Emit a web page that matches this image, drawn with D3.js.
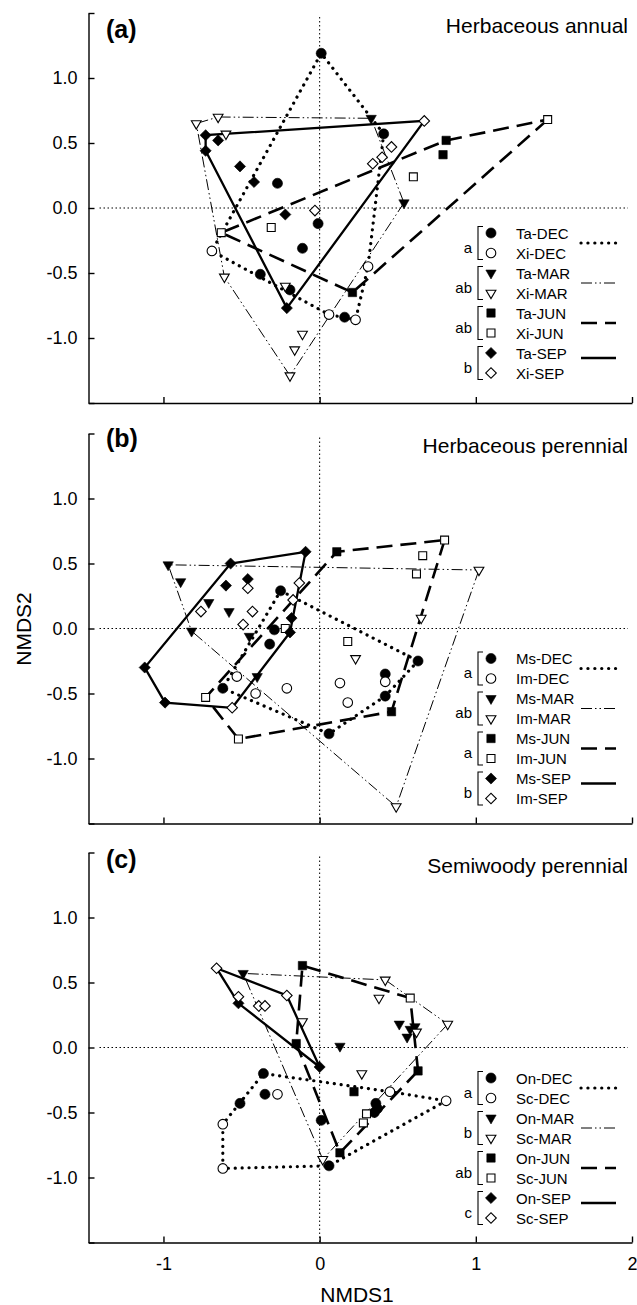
<!DOCTYPE html>
<html>
<head>
<meta charset="utf-8">
<script src="https://cdn.jsdelivr.net/npm/d3@7"></script>
<style>
  body { margin: 0; background: #fff; }
  text { font-family: "Liberation Sans", Arial, sans-serif; fill: #000; }
</style>
</head>
<body>
<svg id="chart" width="637" height="1305"></svg>
<script>
// ---- data (NMDS1, NMDS2) ----
// (a) herbaceous annual
const taDEC = [[0.01,1.19],[0.41,0.57],[-0.27,0.19],[-0.01,-0.12],[-0.11,-0.31],[-0.38,-0.51],[-0.19,-0.63],[0.16,-0.84]];
const xiDEC = [[-0.69,-0.33],[0.31,-0.45],[0.06,-0.82],[0.23,-0.86]];
const taMAR = [[0.33,0.69],[0.54,0.04]];
const xiMAR = [[-0.79,0.65],[-0.65,0.70],[-0.60,0.57],[-0.61,-0.53],[-0.22,-0.60],[-0.11,-0.97],[-0.16,-1.09],[-0.19,-1.29]];
const taJUN = [[0.81,0.52],[0.79,0.41],[0.21,-0.65]];
const xiJUN = [[1.46,0.68],[0.60,0.24],[-0.31,-0.15],[-0.63,-0.19]];
const taSEP = [[-0.73,0.56],[-0.73,0.44],[-0.65,0.52],[-0.51,0.32],[-0.42,0.20],[-0.22,-0.05],[-0.21,-0.77]];
const xiSEP = [[0.67,0.67],[0.46,0.47],[0.40,0.39],[0.34,0.34],[-0.03,-0.02]];
// (b) herbaceous perennial
const msDEC = [[-0.25,0.29],[-0.29,-0.01],[-0.32,-0.12],[-0.62,-0.46],[0.42,-0.35],[0.42,-0.52],[0.06,-0.81],[0.63,-0.25]];
const imDEC = [[-0.53,-0.37],[-0.41,-0.50],[-0.21,-0.46],[0.13,-0.42],[0.18,-0.57],[0.42,-0.41]];
const msMAR = [[-0.97,0.49],[-0.89,0.36],[-0.71,0.20],[-0.58,0.13],[-0.45,-0.06],[-0.40,-0.37],[-0.82,-0.02]];
const imMAR = [[1.02,0.45],[0.65,0.08],[0.23,-0.23],[0.49,-1.37]];
const msJUN = [[0.11,0.59],[0.46,-0.64]];
const imJUN = [[0.80,0.68],[0.66,0.56],[0.62,0.42],[0.18,-0.10],[-0.22,0.0],[-0.73,-0.53],[-0.52,-0.85]];
const msSEP = [[-0.09,0.59],[-0.57,0.50],[-0.60,0.33],[-0.46,0.38],[-0.18,0.08],[-0.19,-0.03],[-1.12,-0.30],[-0.99,-0.57]];
const imSEP = [[-0.46,0.31],[-0.76,0.13],[-0.43,0.13],[-0.49,0.03],[-0.13,0.35],[-0.17,0.22],[-0.56,-0.61]];
// (c) semiwoody perennial
const onDEC = [[-0.36,-0.20],[-0.35,-0.36],[-0.51,-0.43],[0.01,-0.56],[0.06,-0.91],[0.36,-0.43],[0.37,-0.47],[0.35,-0.50]];
const scDEC = [[-0.27,-0.36],[-0.62,-0.59],[-0.62,-0.93],[0.81,-0.41],[0.45,-0.34]];
const onMAR = [[-0.49,0.57],[0.13,0.01],[0.51,0.18],[0.58,0.14],[0.56,0.08],[0.61,0.16]];
const scMAR = [[-0.11,0.20],[0.42,0.52],[0.38,0.38],[0.82,0.18],[0.62,0.12],[0.27,-0.20],[0.02,-0.86]];
const onJUN = [[-0.11,0.63],[-0.15,0.03],[0.22,-0.34],[0.63,-0.18],[0.13,-0.81]];
const scJUN = [[0.58,0.38],[0.30,-0.51],[0.28,-0.58]];
const onSEP = [[-0.52,0.34],[0.0,-0.15]];
const scSEP = [[-0.66,0.61],[-0.52,0.39],[-0.21,0.40],[-0.39,0.32],[-0.35,0.32]];

const seasons = ["DEC", "MAR", "JUN", "SEP"];
const panelSpecies = [["Ta", "Xi"], ["Ms", "Im"], ["On", "Sc"]];
const groupLetters = [["a", "ab", "ab", "b"], ["a", "ab", "a", "b"], ["a", "b", "ab", "c"]];
const panelLetters = ["(a)", "(b)", "(c)"];
const panelTitles = ["Herbaceous annual", "Herbaceous perennial", "Semiwoody perennial"];
const xTicks = [-1, 0, 1, 2];
const yTicks = [-1.5, -1, -0.5, 0, 0.5, 1, 1.5];

const series = { taDEC, xiDEC, taMAR, xiMAR, taJUN, xiJUN, taSEP, xiSEP,
  msDEC, imDEC, msMAR, imMAR, msJUN, imJUN, msSEP, imSEP,
  onDEC, scDEC, onMAR, scMAR, onJUN, scJUN, onSEP, scSEP };
const getSeries = (sp, s) => series[sp.toLowerCase() + s];

// ---- layout ----
const svg = d3.select("#chart");
const left = 88.5, right = 632, panelH = 390;
const panelTop = [13, 433.5, 852.5];
const letterDy = [25, 13, 15.5];
const titleDy = [20, 19, 20];
const legendDy = [220, 225, 225.5];

const x = d3.scaleLinear().domain([-1.48, 2]).range([left, right]);

const symType = { DEC: d3.symbolCircle, MAR: d3.symbolTriangle, JUN: d3.symbolSquare, SEP: d3.symbolSquare };
const symSize = { DEC: 80, MAR: 46, JUN: 70, SEP: 62 };
const symRot = { DEC: 0, MAR: 180, JUN: 0, SEP: 45 };
const lineStyle = {
  DEC: { w: 3.2, dash: "0.1 6.8", cap: "round" },
  MAR: { w: 1, dash: "11 3 1.5 3 1.5 3", cap: "butt" },
  JUN: { w: 2.6, dash: "16 8", cap: "butt" },
  SEP: { w: 2.3, dash: null, cap: "butt" }
};

function styleLine(sel, s) {
  const st = lineStyle[s];
  sel.attr("fill", "none").attr("stroke", "#000")
    .attr("stroke-width", st.w)
    .attr("stroke-linecap", st.cap)
    .attr("stroke-dasharray", st.dash);
}

function drawSymbol(sel, s, filled) {
  sel.attr("d", d3.symbol().type(symType[s]).size(filled ? symSize[s] : symSize[s] * 0.9))
    .attr("fill", filled ? "#000" : "#fff")
    .attr("stroke", "#000")
    .attr("stroke-width", filled ? 0.6 : 1.1);
}

panelTop.forEach((top, pi) => {
  const bottom = top + panelH;
  const y = d3.scaleLinear().domain([-1.5, 1.5]).range([bottom, top]);
  const g = svg.append("g");
  const sp = panelSpecies[pi];

  // zero reference lines
  g.append("line").attr("x1", x(0)).attr("x2", x(0)).attr("y1", top + 4).attr("y2", bottom)
    .attr("stroke", "#000").attr("stroke-width", 1).attr("stroke-dasharray", "1.5 2.5");
  g.append("line").attr("x1", left + 11).attr("x2", right - 4).attr("y1", y(0)).attr("y2", y(0))
    .attr("stroke", "#000").attr("stroke-width", 1).attr("stroke-dasharray", "1.5 2.5");

  // axes
  const yAxis = d3.axisLeft(y).tickValues(yTicks).tickSizeInner(-6).tickSizeOuter(0).tickPadding(11)
    .tickFormat(d => Math.abs(d) > 1.2 ? "" : d.toFixed(1));
  const ya = g.append("g").attr("transform", `translate(${left},0)`).call(yAxis);
  const xAxis = d3.axisBottom(x).tickValues(xTicks).tickSizeInner(-6).tickSizeOuter(0).tickPadding(15)
    .tickFormat(d => pi === 2 ? String(d) : "");
  const xa = g.append("g").attr("transform", `translate(0,${bottom})`).call(xAxis);
  [ya, xa].forEach(a => {
    a.attr("font-family", null).attr("font-size", null);
    a.selectAll(".domain, .tick line").attr("stroke", "#000").attr("stroke-width", 1.4);
    a.selectAll("text").style("font-size", "18px").attr("fill", "#000");
  });

  // hulls per season (both species)
  const line = d3.line().x(d => x(d[0])).y(d => y(d[1])).curve(d3.curveLinearClosed);
  seasons.forEach(s => {
    const pts = getSeries(sp[0], s).concat(getSeries(sp[1], s));
    const hull = d3.polygonHull(pts);
    g.append("path").attr("d", line(hull)).call(styleLine, s);
  });

  // points
  seasons.forEach(s => {
    sp.forEach((name, k) => {
      g.selectAll(null).data(getSeries(name, s)).join("path")
        .attr("transform", d => `translate(${x(d[0])},${y(d[1])}) rotate(${symRot[s]})`)
        .call(drawSymbol, s, k === 0);
    });
  });

  // panel letter and title
  g.append("text").attr("x", 106).attr("y", top + letterDy[pi])
    .style("font-size", "25px").style("font-weight", "bold").text(panelLetters[pi]);
  g.append("text").attr("x", 628).attr("y", top + titleDy[pi]).attr("text-anchor", "end")
    .style("font-size", "21px").text(panelTitles[pi]);

  // legend
  const ly = top + legendDy[pi];
  seasons.forEach((s, si) => {
    const y1 = ly + 40 * si, y2 = y1 + 20, mid = (y1 + y2) / 2;
    g.append("path").attr("d", `M483,${y1 - 6.5}H478V${y2 + 6.5}H483`)
      .attr("fill", "none").attr("stroke", "#000").attr("stroke-width", 1.1);
    g.append("text").attr("x", 472).attr("y", y2 - 0.5).attr("text-anchor", "end")
      .style("font-size", "15px").text(groupLetters[pi][si]);
    sp.forEach((name, k) => {
      const ry = k === 0 ? y1 : y2;
      g.append("path").attr("transform", `translate(491,${ry}) rotate(${symRot[s]})`)
        .call(drawSymbol, s, k === 0);
      g.append("text").attr("x", 516).attr("y", ry + 5.5)
        .style("font-size", "15px").text(`${name}-${s}`);
    });
    const sy = s === "SEP" ? mid - 5 : mid;
    g.append("line").attr("x1", 581).attr("x2", 616).attr("y1", sy).attr("y2", sy).call(styleLine, s);
  });
});

// axis titles
svg.append("text").attr("transform", "translate(31,629) rotate(-90)").attr("text-anchor", "middle")
  .style("font-size", "21px").text("NMDS2");
svg.append("text").attr("x", 357).attr("y", 1302).attr("text-anchor", "middle")
  .style("font-size", "21px").text("NMDS1");
</script>
</body>
</html>
